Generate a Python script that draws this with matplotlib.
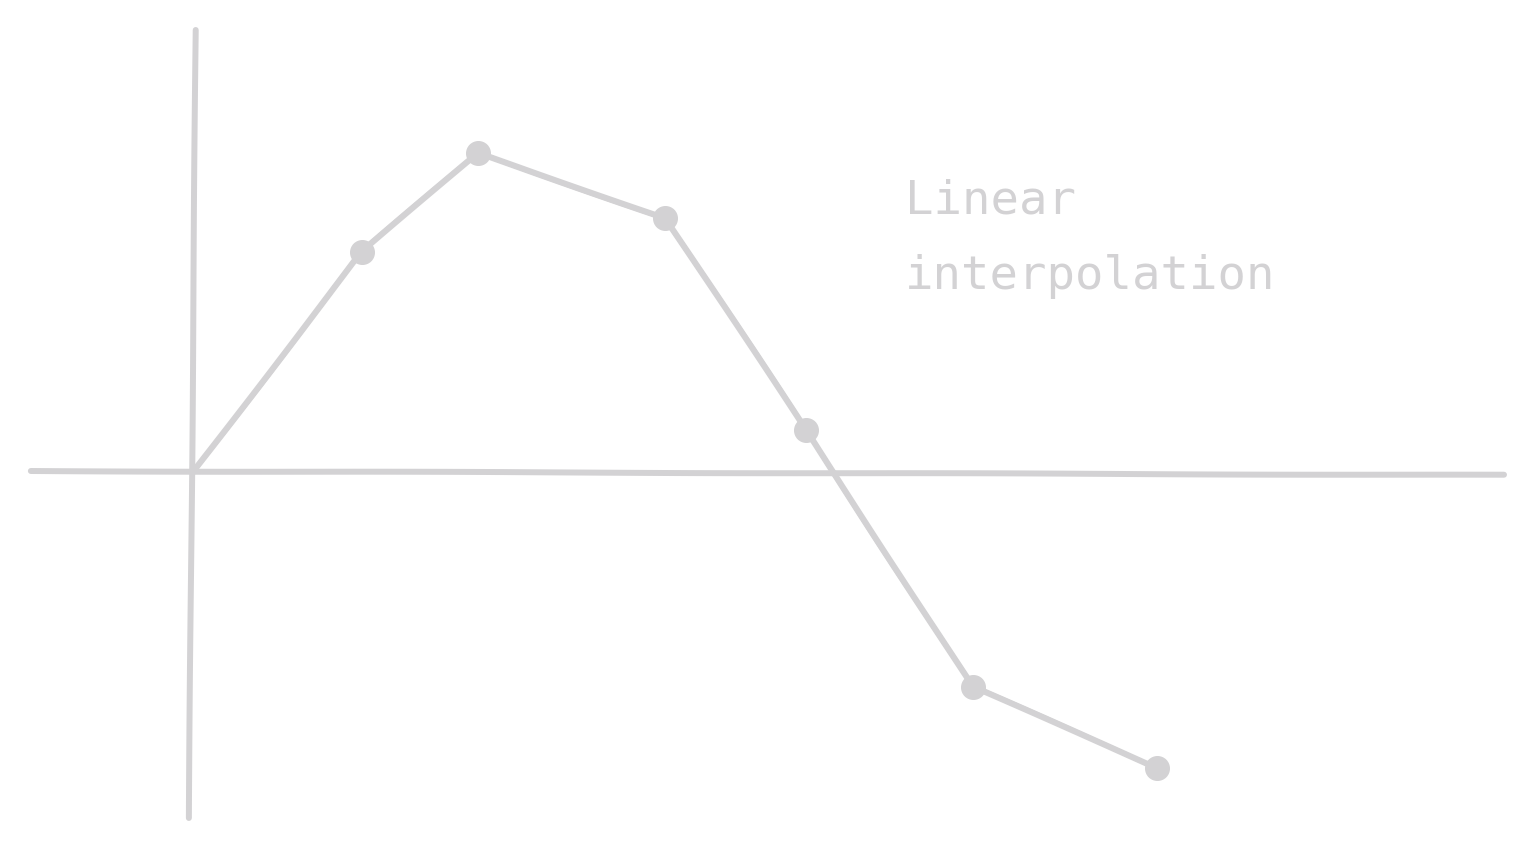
import matplotlib
matplotlib.use("Agg")
import matplotlib.pyplot as plt

# data (origin at the axis crossing)
x_vals = [0.0, 1.75, 2.96, 4.90, 6.36, 8.09, 10.0]
y_vals = [0.0, 2.20, 3.19, 2.54, 0.42, -2.15, -2.96]
label_text = "Linear\ninterpolation"

GREY = "#d3d2d4"

fig = plt.figure(figsize=(15.31, 8.47), dpi=100)
ax = fig.add_axes([0, 0, 1, 1])
ax.set_xlim(-2.0, 13.88)
ax.set_ylim(-3.75, 4.72)
ax.axis("off")

# hand-drawn axes
hx, = ax.plot([-1.68, 13.6], [0.01, -0.03], color=GREY, lw=4.3,
              solid_capstyle="round")
vx, = ax.plot([0.03, -0.04], [4.42, -3.46], color=GREY, lw=4.3,
              solid_capstyle="round")
for ln in (hx, vx):
    ln.set_sketch_params(scale=0.3, length=600, randomness=2)

# the interpolated series, drawn twice for a rough double stroke
for k, lw in enumerate((4.4, 3.0)):
    ln, = ax.plot(x_vals, y_vals, color=GREY, lw=lw,
                  solid_capstyle="round", solid_joinstyle="round")
    ln.set_sketch_params(scale=0.6 + k * 0.6, length=500, randomness=2)

ax.plot(x_vals[1:], y_vals[1:], "o", color=GREY, ms=17, mec=GREY)

ax.text(7.39, 2.93, label_text, color=GREY, fontsize=34,
        family="DejaVu Sans Mono", va="top", ha="left", linespacing=1.85)

fig.savefig("out.png", dpi=100, facecolor="white")
